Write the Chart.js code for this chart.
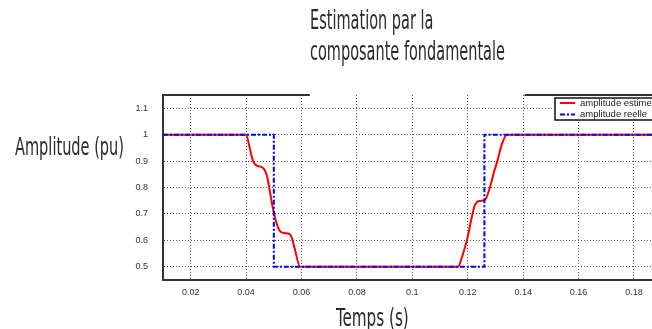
<!DOCTYPE html>
<html>
<head>
<meta charset="utf-8">
<script src="https://cdn.jsdelivr.net/npm/chart.js@4.4.1/dist/chart.umd.min.js"></script>
<style>
  html, body { margin: 0; padding: 0; background: #fff; }
  #wrap { position: relative; width: 652px; height: 329px; overflow: hidden; }
  #plot { position: absolute; left: 0; top: 0; }
  .lbl { position: absolute; font-family: "Liberation Sans Narrow", "DejaVu Sans Condensed", sans-serif; color: #2a2a2a; white-space: nowrap; transform-origin: 0 0; }
  #title { left: 310px; top: 5px; font-size: 26px; line-height: 30.5px; transform: scaleX(0.62); }
  #ylab { left: 15px; top: 132px; font-size: 24.5px; line-height: normal; transform: scaleX(0.66); }
  #xlab { left: 336px; top: 303px; font-size: 24.5px; line-height: normal; transform: scaleX(0.69); }
</style>
</head>
<body>
<div id="wrap">
  <canvas id="plot" width="652" height="329"></canvas>
  <div class="lbl" id="title">Estimation par la<br>composante fondamentale</div>
  <div class="lbl" id="ylab">Amplitude (pu)</div>
  <div class="lbl" id="xlab">Temps (s)</div>
</div>
<script>
// axis ranges and ticks
const xMin = 0.01, xMax = 0.1865;
const yMin = 0.45, yMax = 1.15;
const xTicks = [0.02, 0.04, 0.06, 0.08, 0.1, 0.12, 0.14, 0.16, 0.18];
const yTicks = [0.5, 0.6, 0.7, 0.8, 0.9, 1, 1.1];

// partial top frame (gap in the middle, as in the scan)
const topGapStart = 0.063, topGapEnd = 0.1405;

// estimated amplitude (red)
const estT = [0.01, 0.04, 0.0413, 0.0425, 0.044, 0.046, 0.0475, 0.0485, 0.0495, 0.051, 0.052, 0.0535, 0.0555, 0.0565, 0.0575, 0.0595,
              0.1165, 0.118, 0.1197, 0.1215, 0.1226, 0.1244, 0.1262, 0.128, 0.1295, 0.1306, 0.1324, 0.1342, 0.1865];
const estA = [1, 1, 0.95, 0.9, 0.882, 0.875, 0.845, 0.79, 0.73, 0.665, 0.638, 0.628, 0.625, 0.61, 0.57, 0.5,
              0.5, 0.54, 0.6, 0.69, 0.734, 0.749, 0.753, 0.8, 0.86, 0.897, 0.967, 1, 1];

// real amplitude (blue)
const realT = [0.01, 0.05, 0.05, 0.126, 0.126, 0.1865];
const realA = [1, 1, 0.5, 0.5, 1, 1];

const seriesLabels = ['amplitude estimee', 'amplitude reelle'];

const toXY = (xs, ys) => xs.map((x, i) => ({ x: x, y: ys[i] }));

// draws the two bits of the top frame
const topFrame = {
  id: 'topFrame',
  afterDraw(chart) {
    const c = chart.ctx, a = chart.chartArea, xs = chart.scales.x;
    c.save();
    c.strokeStyle = '#333';
    c.lineWidth = 2;
    c.beginPath();
    c.moveTo(a.left, a.top);
    c.lineTo(xs.getPixelForValue(topGapStart), a.top);
    c.moveTo(xs.getPixelForValue(topGapEnd), a.top);
    c.lineTo(a.right, a.top);
    c.stroke();
    c.restore();
  }
};

// matlab-ish boxed legend in the top right corner
const boxLegend = {
  id: 'boxLegend',
  afterDatasetsDraw(chart) {
    const c = chart.ctx, a = chart.chartArea;
    const bx = a.right - 97, by = a.top + 3;
    c.save();
    c.fillStyle = '#fff';
    c.fillRect(bx, by, 120, 22);
    c.strokeStyle = '#111';
    c.lineWidth = 1.5;
    c.strokeRect(bx, by, 120, 22);
    c.font = '9.5px "Liberation Sans", Arial, sans-serif';
    c.textBaseline = 'middle';
    chart.data.datasets.forEach((ds, i) => {
      const yy = by + 5 + i * 11.5;
      c.strokeStyle = ds.borderColor;
      c.lineWidth = 2;
      c.setLineDash(ds.borderDash || []);
      c.beginPath();
      c.moveTo(bx + 5, yy);
      c.lineTo(bx + 20, yy);
      c.stroke();
      c.setLineDash([]);
      c.fillStyle = '#222';
      c.fillText(ds.label, bx + 25, yy);
    });
    c.restore();
  }
};

new Chart(document.getElementById('plot').getContext('2d'), {
  type: 'line',
  data: {
    datasets: [
      {
        label: seriesLabels[0],
        data: toXY(estT, estA),
        borderColor: '#ff0000',
        borderWidth: 2,
        pointRadius: 0,
        cubicInterpolationMode: 'monotone',
        fill: false,
        order: 1
      },
      {
        label: seriesLabels[1],
        data: toXY(realT, realA),
        borderColor: '#0000ff',
        borderWidth: 2,
        borderDash: [5, 2, 2, 2],
        pointRadius: 0,
        tension: 0,
        fill: false,
        order: 0
      }
    ]
  },
  options: {
    responsive: false,
    animation: false,
    devicePixelRatio: 1,
    layout: { padding: { top: 95, right: 0, left: 0, bottom: 0 } },
    plugins: { legend: { display: false }, tooltip: { enabled: false } },
    scales: {
      x: {
        type: 'linear',
        min: xMin,
        max: xMax,
        afterBuildTicks: s => { s.ticks = xTicks.map(v => ({ value: v })); },
        afterFit: s => { s.height = 49; },
        ticks: {
          autoSkip: false,
          maxRotation: 0,
          padding: 7,
          color: '#333',
          font: { family: '"Liberation Sans", Arial, sans-serif', size: 9 },
          callback: v => String(v)
        },
        grid: { color: '#555', lineWidth: 1, drawTicks: false },
        border: { display: true, color: '#333', width: 2, dash: [1, 2] }
      },
      y: {
        type: 'linear',
        min: yMin,
        max: yMax,
        afterBuildTicks: s => { s.ticks = yTicks.map(v => ({ value: v })); },
        afterFit: s => { s.width = 163; },
        ticks: {
          padding: 15,
          color: '#333',
          font: { family: '"Liberation Sans", Arial, sans-serif', size: 9 },
          callback: v => String(v)
        },
        grid: { color: '#555', lineWidth: 1, drawTicks: false },
        border: { display: true, color: '#333', width: 2, dash: [1, 2] }
      }
    }
  },
  plugins: [topFrame, boxLegend]
});
</script>
</body>
</html>
